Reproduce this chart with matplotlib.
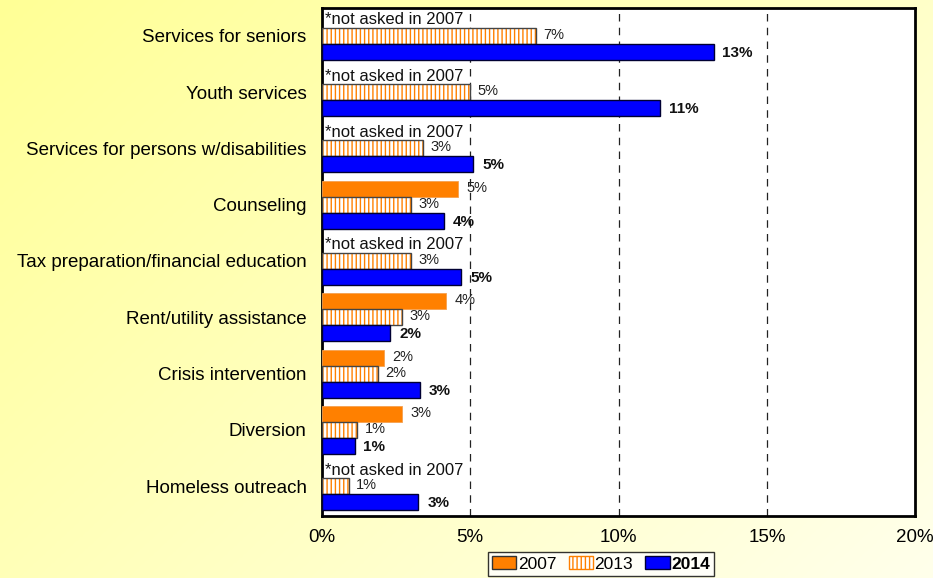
import matplotlib.pyplot as plt
import matplotlib.patches as patches
import numpy as np

plt.rcParams['font.family'] = ['Liberation Sans', 'DejaVu Sans']

# Survey results (% of respondents), None = not asked that year
categories = ['Services for seniors', 'Youth services',
              'Services for persons w/disabilities', 'Counseling',
              'Tax preparation/financial education', 'Rent/utility assistance',
              'Crisis intervention', 'Diversion', 'Homeless outreach']
vals_2007 = [None, None, None, 4.6, None, 4.2, 2.1, 2.7, None]
vals_2013 = [7.2, 5.0, 3.4, 3.0, 3.0, 2.7, 1.9, 1.2, 0.9]
vals_2014 = [13.2, 11.4, 5.1, 4.1, 4.7, 2.3, 3.3, 1.1, 3.25]
x_ticks = [0, 5, 10, 15, 20]

ORANGE = '#FF8000'
BLUE = '#0000FF'

fig = plt.figure(figsize=(9.33, 5.78), dpi=100)

# pale yellow diagonal wash behind everything
bg = fig.add_axes([0, 0, 1, 1], zorder=-10)
gx, gy = np.meshgrid(np.linspace(0, 1, 200), np.linspace(0, 1, 200))
t = np.clip((gx * 0.6 + gy * 0.4), 0, 1)
img = np.zeros((200, 200, 3))
img[..., 0] = 1.0
img[..., 1] = 1.0
img[..., 2] = (150 + 85 * t) / 255
bg.imshow(img, aspect='auto', extent=[0, 1, 0, 1], origin='upper')
bg.axis('off')

ax = fig.add_axes([0.345, 0.107, 0.636, 0.879])
ax.set_facecolor('white')

h = 0.284
y = np.arange(len(categories))

for i in y:
    # 2007
    v07 = vals_2007[i]
    if v07 is None:
        ax.text(0.1, i - h, '*not asked in 2007', ha='left', va='center',
                fontsize=12, color='#111111', zorder=4)
    else:
        ax.barh(i - h, v07, height=h, color=ORANGE, edgecolor='#F5A050',
                linewidth=0.6, zorder=3)
        ax.text(v07 + 0.27, i - h - 0.02, f'{v07:.0f}%', ha='left',
                va='center', fontsize=10.5, color='#222222', zorder=4)

    # 2013 – white with orange vertical hatching
    v13 = vals_2013[i]
    ax.barh(i, v13, height=h, color='white', edgecolor=ORANGE, hatch='||||',
            linewidth=0, zorder=3)
    ax.barh(i, v13, height=h, fill=False, edgecolor='#444444',
            linewidth=1.0, zorder=3)
    ax.text(v13 + 0.25, i - 0.02, f'{v13:.0f}%', ha='left', va='center',
            fontsize=10.5, color='#222222', zorder=4)

    # 2014
    v14 = vals_2014[i]
    ax.barh(i + h, v14, height=h, color=BLUE, edgecolor='#000033',
            linewidth=1.0, zorder=3)
    ax.text(v14 + 0.3, i + h + 0.02, f'{v14:.0f}%', ha='left', va='center',
            fontsize=11, fontweight='bold', color='#111111', zorder=4)

ax.set_xlim(0, 20)
ax.set_ylim(8.53, -0.49)
ax.set_xticks(x_ticks)
ax.set_xticklabels([f'{v}%' for v in x_ticks], fontsize=13.5)
ax.set_yticks(y)
ax.set_yticklabels(categories, fontsize=13.5)
ax.tick_params(length=0, pad=9, axis='x')
ax.tick_params(length=0, pad=11, axis='y')

for xv in x_ticks[1:-1]:
    ax.axvline(xv, color='#222222', linestyle=(0, (6, 5)), linewidth=0.9,
               zorder=1)

for s in ax.spines.values():
    s.set_linewidth(2)
    s.set_color('black')

legend_elements = [
    patches.Patch(facecolor=ORANGE, edgecolor='#333333', label='2007'),
    patches.Patch(facecolor='white', edgecolor=ORANGE, hatch='||||',
                  label='2013'),
    patches.Patch(facecolor=BLUE, edgecolor='#000033', label='2014'),
]
leg = fig.legend(handles=legend_elements, loc='center',
                 bbox_to_anchor=(601 / 933, 1 - 564 / 578), ncol=3,
                 fontsize=12.5, frameon=True, fancybox=False,
                 handlelength=1.4, handleheight=0.8, handletextpad=0.1,
                 columnspacing=0.7, borderpad=0.25)
leg.get_frame().set_edgecolor('black')
leg.get_frame().set_linewidth(1)
leg.get_frame().set_facecolor('white')
leg.get_texts()[2].set_fontweight('bold')

fig.savefig('out.png', dpi=100)
